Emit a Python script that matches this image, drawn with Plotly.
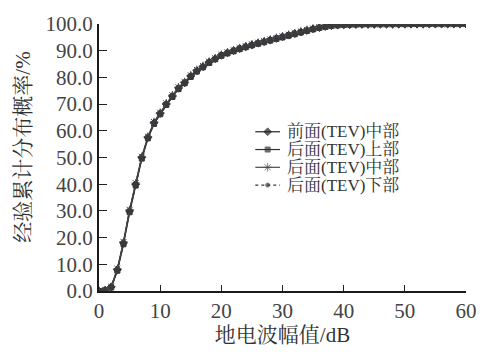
import plotly.graph_objects as go

x_db = list(range(0, 61))
front_mid = [0, 0.3, 1.5, 8, 18, 30, 40, 50, 57.5, 63, 66.5, 70, 73, 76, 78, 80.5, 82.5, 84, 85.7, 87,
             88.3, 89.2, 90, 90.8, 91.5, 92.2, 92.8, 93.4, 94, 94.6, 95.2, 95.8, 96.4, 97, 97.6, 98.2,
             98.7, 99.1, 99.4, 99.6, 99.7, 99.8, 99.85, 99.9, 99.9, 99.9, 99.92, 99.94, 99.95, 99.96,
             99.97, 99.97, 99.98, 99.98, 99.99, 99.99, 99.99, 100, 100, 100, 100]
back_top = [0, 0.2, 1.3, 7.6, 17.5, 29.5, 39.5, 49.6, 57.2, 62.6, 66.2, 69.7, 72.7, 75.6, 77.8, 80.2, 82.2, 83.8, 85.4, 86.8,
            88.1, 89.0, 89.8, 90.6, 91.3, 92.0, 92.6, 93.2, 93.8, 94.4, 95.0, 95.6, 96.2, 96.8, 97.4, 98.0,
            98.5, 98.9, 99.3, 99.5, 99.65, 99.75, 99.82, 99.87, 99.9, 99.9, 99.92, 99.93, 99.95, 99.96,
            99.96, 99.97, 99.98, 99.98, 99.99, 99.99, 99.99, 100, 100, 100, 100]
back_mid = [0, 0.3, 1.6, 8.3, 18.4, 30.4, 40.4, 50.3, 57.8, 63.3, 66.8, 70.3, 73.3, 76.3, 78.3, 80.8, 82.8, 84.3, 85.9, 87.2,
            88.5, 89.4, 90.2, 91.0, 91.7, 92.4, 93.0, 93.6, 94.2, 94.8, 95.4, 96.0, 96.6, 97.2, 97.8, 98.3,
            98.8, 99.2, 99.45, 99.6, 99.7, 99.8, 99.86, 99.9, 99.9, 99.92, 99.93, 99.94, 99.95, 99.96,
            99.97, 99.98, 99.98, 99.99, 99.99, 99.99, 100, 100, 100, 100, 100]
back_bot = [0, 0.2, 1.4, 7.8, 17.8, 29.8, 39.8, 49.8, 57.4, 62.8, 66.4, 69.9, 72.9, 75.8, 78.0, 80.4, 82.4, 83.9, 85.6, 86.9,
            88.2, 89.1, 89.9, 90.7, 91.4, 92.1, 92.7, 93.3, 93.9, 94.5, 95.1, 95.7, 96.3, 96.9, 97.5, 98.1,
            98.6, 99.0, 99.35, 99.55, 99.68, 99.78, 99.84, 99.88, 99.9, 99.91, 99.92, 99.94, 99.95, 99.96,
            99.97, 99.97, 99.98, 99.98, 99.99, 99.99, 99.99, 100, 100, 100, 100]

names = ["前面(TEV)中部", "后面(TEV)上部", "后面(TEV)中部", "后面(TEV)下部"]
x_ticks = [0, 10, 20, 30, 40, 50, 60]
y_ticks = [0, 10, 20, 30, 40, 50, 60, 70, 80, 90, 100]
y_tick_text = [f"{v:.1f}" for v in y_ticks]
x_title = "地电波幅值/dB"
y_title = "经验累计分布概率/%"

series = [front_mid, back_top, back_mid, back_bot]
symbols = ["diamond", "square", "asterisk-open", "circle"]
dashes = ["solid", "solid", "solid", "dot"]
colors = ["#222222", "#333333", "#4a4a55", "#3a3a3a"]
msizes = [6, 5, 7, 4]

FONT = "Liberation Serif, 'Noto Serif CJK SC', 'Noto Sans CJK SC', serif"

# layout geometry (pixels)
W, H = 489, 354
ML, MR, MT, MB = 99, 19, 16, 63
PW, PH = W - ML - MR, H - MT - MB

def px_to_x(p):
    return (p - ML) / PW

def px_to_y(p):
    return (H - MB - p) / PH

fig = go.Figure()
for name, ys, sym, dash, col, ms in zip(names, series, symbols, dashes, colors, msizes):
    fig.add_trace(go.Scatter(
        x=x_db, y=ys, name=name, mode="lines+markers", showlegend=False,
        line=dict(color=col, width=1.4, dash=dash),
        marker=dict(symbol=sym, size=ms, color=col, line=dict(color=col, width=1)),
    ))

# custom legend (tight row spacing like the reference)
row_px = [127, 145.3, 163.6, 181.9]
lx0, lx1, ltext = px_to_x(257), px_to_x(282), px_to_x(287)
annotations = []
for name, sym, dash, col, ms, rp in zip(names, symbols, dashes, colors, msizes, row_px):
    yy = px_to_y(rp)
    fig.add_trace(go.Scatter(
        x=[lx0, (lx0 + lx1) / 2, lx1], y=[yy, yy, yy], xaxis="x2", yaxis="y2",
        mode="lines+markers", showlegend=False, hoverinfo="skip",
        line=dict(color=col, width=1.2, dash=dash),
        marker=dict(symbol=sym, size=[0, ms, 0], color=col, line=dict(color=col, width=1)),
    ))
    annotations.append(dict(
        x=ltext, y=yy, xref="paper", yref="paper", xanchor="left", yanchor="middle",
        text=name, showarrow=False, font=dict(size=17, color="#333"),
    ))

annotations.append(dict(
    x=px_to_x(22), y=px_to_y(142.5), xref="paper", yref="paper",
    xanchor="center", yanchor="middle", textangle=-90,
    text=y_title, showarrow=False, font=dict(size=21, color="#333"),
))

fig.update_layout(
    width=W, height=H,
    margin=dict(l=ML, r=MR, t=MT, b=MB),
    paper_bgcolor="white", plot_bgcolor="white",
    font=dict(family=FONT, size=20, color="#222"),
    showlegend=False,
    annotations=annotations,
    xaxis=dict(range=[0, 60], tickvals=x_ticks, ticks="inside", ticklen=6, tickwidth=1.3, tickcolor="#222",
               showline=True, linecolor="#1a1a1a", linewidth=2, showgrid=False, zeroline=False,
               title=dict(text=x_title, standoff=4, font=dict(size=21, color="#333")),
               tickfont=dict(size=21, color="#444")),
    yaxis=dict(range=[0, 100], tickvals=y_ticks, ticktext=y_tick_text, ticks="inside", ticklen=8,
               tickwidth=1.3, tickcolor="#222",
               showline=True, linecolor="#1a1a1a", linewidth=2, showgrid=False, zeroline=False,
               tickfont=dict(size=21, color="#444")),
    xaxis2=dict(overlaying="x", range=[0, 1], visible=False, fixedrange=True),
    yaxis2=dict(overlaying="y", range=[0, 1], visible=False, fixedrange=True),
)

fig.write_html("out.html")
